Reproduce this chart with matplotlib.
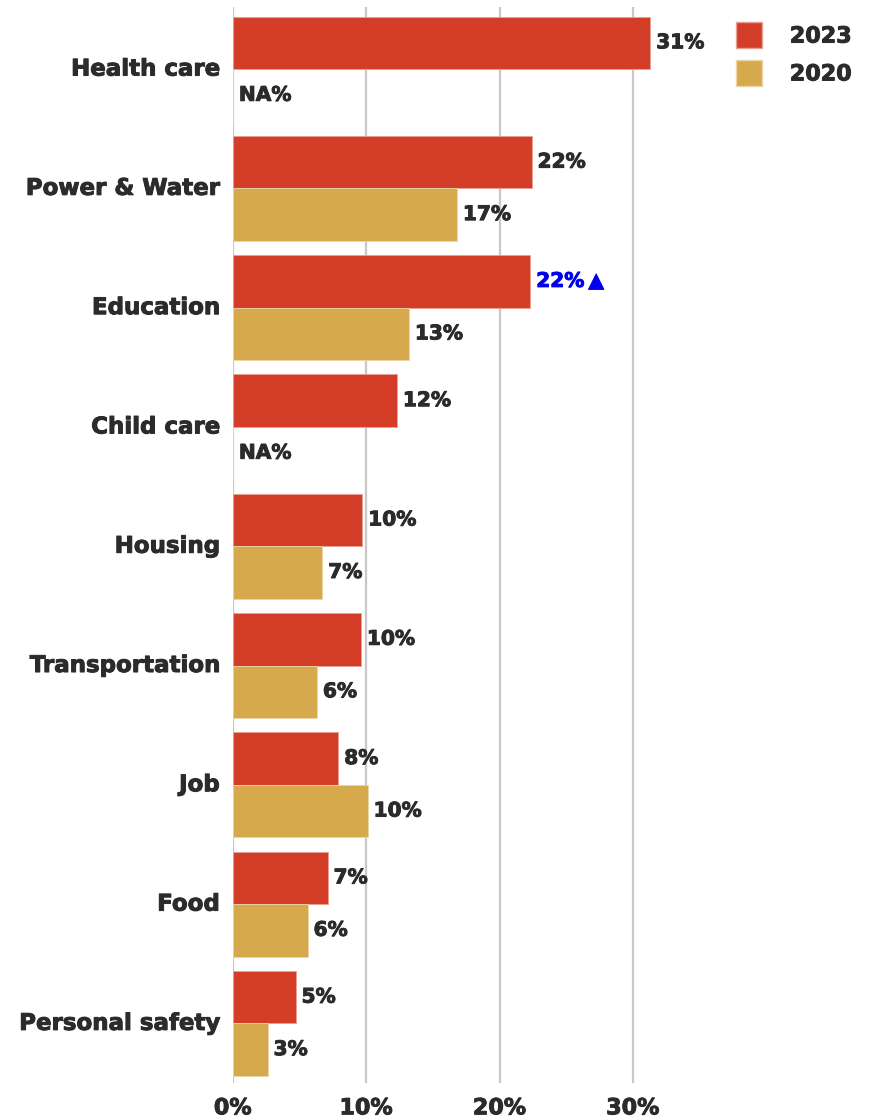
import matplotlib
matplotlib.use("Agg")
import matplotlib.pyplot as plt
import matplotlib.patheffects as pe
from matplotlib.patches import Patch
import numpy as np

categories = ["Health care", "Power & Water", "Education", "Child care", "Housing",
              "Transportation", "Job", "Food", "Personal safety"]
values_2023 = [31.3, 22.4, 22.3, 12.3, 9.7, 9.6, 7.9, 7.1, 4.7]
values_2020 = [None, 16.8, 13.2, None, 6.7, 6.3, 10.1, 5.6, 2.6]
x_ticks = [0, 10, 20, 30]
highlight = "Education"

C2023 = "#D43D27"
C2020 = "#D6AA4C"
TXT = "#2b2b2b"
FONT = ["DejaVu Sans"]

plt.rcParams["font.family"] = FONT
plt.rcParams["font.weight"] = "bold"


def heavy(color):
    # thicken the bold glyphs slightly
    return [pe.withStroke(linewidth=0.7, foreground=color)]


fig = plt.figure(figsize=(8.69, 11.17), dpi=100)
ax = fig.add_axes([0.268, 0.0304, 0.537, 0.9633])

y = np.arange(len(categories))
h = 0.44

v23 = np.array(values_2023, dtype=float)
v20 = np.array([np.nan if v is None else v for v in values_2020], dtype=float)

ax.barh(y - h / 2, v23, height=h, color=C2023, edgecolor="#e8a090", linewidth=0.6, zorder=3)
ax.barh(y + h / 2, np.nan_to_num(v20), height=h, color=C2020, edgecolor="#ecd4a6",
        linewidth=0.6, zorder=3)

pad = 0.45
VAL_FS = 14.5
for i, cat in enumerate(categories):
    if cat == highlight:
        ax.text(v23[i] + pad, y[i] - h / 2, f"{v23[i]:.0f}%\u2009\u25B2", va="center",
                ha="left", fontsize=VAL_FS, color="#0000ee", fontweight="bold",
                path_effects=heavy("#0000ee"))
    else:
        ax.text(v23[i] + pad, y[i] - h / 2, f"{v23[i]:.0f}%", va="center", ha="left",
                fontsize=VAL_FS, color=TXT, fontweight="bold", path_effects=heavy(TXT))
    lab = "NA%" if np.isnan(v20[i]) else f"{v20[i]:.0f}%"
    xv = 0 if np.isnan(v20[i]) else v20[i]
    ax.text(xv + pad, y[i] + h / 2, lab, va="center", ha="left",
            fontsize=VAL_FS, color=TXT, fontweight="bold", path_effects=heavy(TXT))

ax.set_ylim(len(categories) - 0.5, -0.52)
ax.set_xlim(0, 35)
ax.set_yticks(y)
ax.set_yticklabels(categories, fontsize=16.5, color=TXT, fontweight="bold", va="center")
ax.set_xticks(x_ticks)
ax.set_xticklabels([f"{t}%" for t in x_ticks], fontsize=16, color=TXT, fontweight="bold")
for t in ax.get_yticklabels() + ax.get_xticklabels():
    t.set_path_effects(heavy(TXT))
ax.tick_params(axis="both", length=0)
ax.tick_params(axis="y", pad=9.5)
ax.tick_params(axis="x", pad=11)
for s in ax.spines.values():
    s.set_visible(False)
ax.xaxis.grid(True, color="#c8c8c8", linewidth=1.6, zorder=0)
ax.set_axisbelow(True)

handles = [Patch(facecolor=C2023, edgecolor="#e8a090"), Patch(facecolor=C2020, edgecolor="#ecd4a6")]
leg = fig.legend(handles, ["2023", "2020"], loc="upper left", bbox_to_anchor=(0.847, 0.980),
                 frameon=False, handlelength=1.17, handleheight=1.4, borderpad=0,
                 borderaxespad=0, handletextpad=1.25, labelspacing=0.55, labelcolor=TXT,
                 prop={"family": FONT, "weight": "bold", "size": 16})
for t in leg.get_texts():
    t.set_path_effects(heavy(TXT))

fig.savefig("out.png", dpi=100, facecolor="white")
